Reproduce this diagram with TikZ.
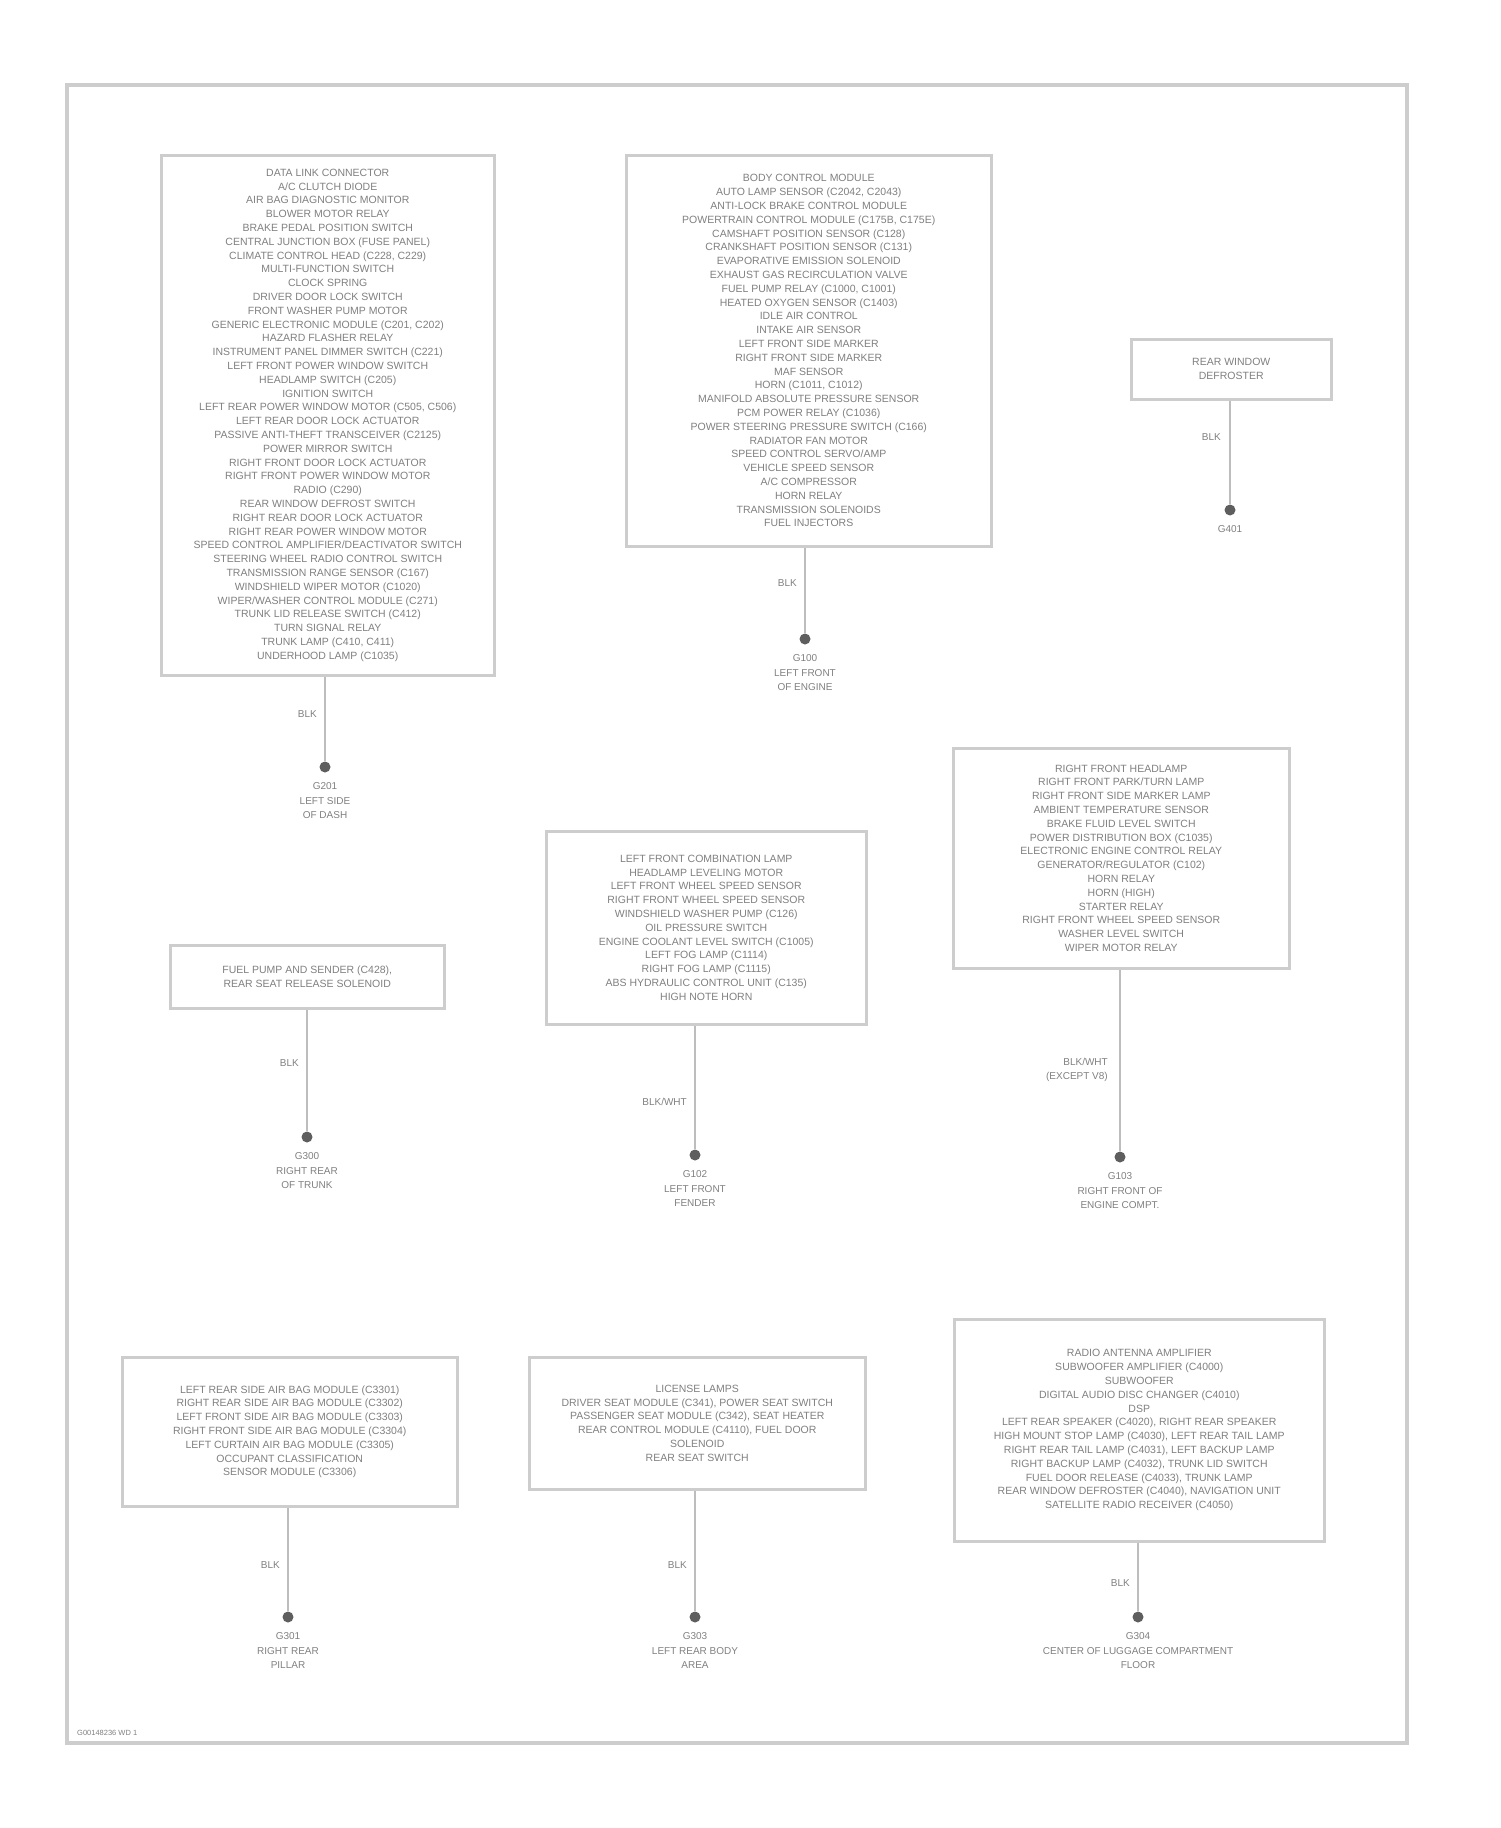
\documentclass[tikz,border=0pt]{standalone}
\usepackage{fontspec}
\setmainfont{Liberation Sans}
\usepackage{tikz}
\usetikzlibrary{positioning}

\definecolor{boxline}{HTML}{CDCDCD}
\definecolor{wireline}{HTML}{BDBDBD}
\definecolor{inktext}{HTML}{808080}
\definecolor{gnddark}{HTML}{5E5E5E}

\tikzset{
  compbox/.style={rectangle, draw=boxline, line width=2.5pt, fill=white, inner sep=0pt, anchor=north west, align=center, text=inktext, font=\fontsize{10.5}{13.8}\selectfont},
  wire/.style={draw=wireline, line width=2.5pt},
  gnddot/.style={circle, fill=gnddark, draw=none, inner sep=0pt, minimum size=11pt},
  gndtext/.style={inner sep=0pt, align=center, text=inktext, font=\fontsize{10}{14.5}\selectfont},
  wirelabel/.style={inner sep=0pt, align=right, anchor=east, text=inktext, font=\fontsize{10}{14.5}\selectfont}
}

\begin{document}
\begin{tikzpicture}[x=1pt,y=-1pt]
\useasboundingbox (0,0) rectangle (1500,1828);

% outer frame
\draw[draw=boxline, line width=4pt] (67,85) rectangle (1407,1743);
\node[inner sep=0pt, anchor=west, text=inktext, font=\fontsize{7.5}{9}\selectfont] (imgid) at (77,1733) {G00148236 WD 1};

% components
\node[compbox, minimum width=333, minimum height=520] (boxA) at (160,154) {DATA LINK CONNECTOR\\A/C CLUTCH DIODE\\AIR BAG DIAGNOSTIC MONITOR\\BLOWER MOTOR RELAY\\BRAKE PEDAL POSITION SWITCH\\CENTRAL JUNCTION BOX (FUSE PANEL)\\CLIMATE CONTROL HEAD (C228, C229)\\MULTI-FUNCTION SWITCH\\CLOCK SPRING\\DRIVER DOOR LOCK SWITCH\\FRONT WASHER PUMP MOTOR\\GENERIC ELECTRONIC MODULE (C201, C202)\\HAZARD FLASHER RELAY\\INSTRUMENT PANEL DIMMER SWITCH (C221)\\LEFT FRONT POWER WINDOW SWITCH\\HEADLAMP SWITCH (C205)\\IGNITION SWITCH\\LEFT REAR POWER WINDOW MOTOR (C505, C506)\\LEFT REAR DOOR LOCK ACTUATOR\\PASSIVE ANTI-THEFT TRANSCEIVER (C2125)\\POWER MIRROR SWITCH\\RIGHT FRONT DOOR LOCK ACTUATOR\\RIGHT FRONT POWER WINDOW MOTOR\\RADIO (C290)\\REAR WINDOW DEFROST SWITCH\\RIGHT REAR DOOR LOCK ACTUATOR\\RIGHT REAR POWER WINDOW MOTOR\\SPEED CONTROL AMPLIFIER/DEACTIVATOR SWITCH\\STEERING WHEEL RADIO CONTROL SWITCH\\TRANSMISSION RANGE SENSOR (C167)\\WINDSHIELD WIPER MOTOR (C1020)\\WIPER/WASHER CONTROL MODULE (C271)\\TRUNK LID RELEASE SWITCH (C412)\\TURN SIGNAL RELAY\\TRUNK LAMP (C410, C411)\\UNDERHOOD LAMP (C1035)};

\node[compbox, minimum width=365, minimum height=391] (boxB) at (625,154) {BODY CONTROL MODULE\\AUTO LAMP SENSOR (C2042, C2043)\\ANTI-LOCK BRAKE CONTROL MODULE\\POWERTRAIN CONTROL MODULE (C175B, C175E)\\CAMSHAFT POSITION SENSOR (C128)\\CRANKSHAFT POSITION SENSOR (C131)\\EVAPORATIVE EMISSION SOLENOID\\EXHAUST GAS RECIRCULATION VALVE\\FUEL PUMP RELAY (C1000, C1001)\\HEATED OXYGEN SENSOR (C1403)\\IDLE AIR CONTROL\\INTAKE AIR SENSOR\\LEFT FRONT SIDE MARKER\\RIGHT FRONT SIDE MARKER\\MAF SENSOR\\HORN (C1011, C1012)\\MANIFOLD ABSOLUTE PRESSURE SENSOR\\PCM POWER RELAY (C1036)\\POWER STEERING PRESSURE SWITCH (C166)\\RADIATOR FAN MOTOR\\SPEED CONTROL SERVO/AMP\\VEHICLE SPEED SENSOR\\A/C COMPRESSOR\\HORN RELAY\\TRANSMISSION SOLENOIDS\\FUEL INJECTORS};

\node[compbox, minimum width=200, minimum height=60] (boxC) at (1130,338) {REAR WINDOW\\DEFROSTER};

\node[compbox, minimum width=274, minimum height=63] (boxD) at (169,944) {FUEL PUMP AND SENDER (C428),\\REAR SEAT RELEASE SOLENOID};

\node[compbox, minimum width=320, minimum height=193] (boxE) at (545,830) {LEFT FRONT COMBINATION LAMP\\HEADLAMP LEVELING MOTOR\\LEFT FRONT WHEEL SPEED SENSOR\\RIGHT FRONT WHEEL SPEED SENSOR\\WINDSHIELD WASHER PUMP (C126)\\OIL PRESSURE SWITCH\\ENGINE COOLANT LEVEL SWITCH (C1005)\\LEFT FOG LAMP (C1114)\\RIGHT FOG LAMP (C1115)\\ABS HYDRAULIC CONTROL UNIT (C135)\\HIGH NOTE HORN};

\node[compbox, minimum width=336, minimum height=220] (boxF) at (952,747) {RIGHT FRONT HEADLAMP\\RIGHT FRONT PARK/TURN LAMP\\RIGHT FRONT SIDE MARKER LAMP\\AMBIENT TEMPERATURE SENSOR\\BRAKE FLUID LEVEL SWITCH\\POWER DISTRIBUTION BOX (C1035)\\ELECTRONIC ENGINE CONTROL RELAY\\GENERATOR/REGULATOR (C102)\\HORN RELAY\\HORN (HIGH)\\STARTER RELAY\\RIGHT FRONT WHEEL SPEED SENSOR\\WASHER LEVEL SWITCH\\WIPER MOTOR RELAY};

\node[compbox, minimum width=335, minimum height=149] (boxG) at (121,1356) {LEFT REAR SIDE AIR BAG MODULE (C3301)\\RIGHT REAR SIDE AIR BAG MODULE (C3302)\\LEFT FRONT SIDE AIR BAG MODULE (C3303)\\RIGHT FRONT SIDE AIR BAG MODULE (C3304)\\LEFT CURTAIN AIR BAG MODULE (C3305)\\OCCUPANT CLASSIFICATION\\SENSOR MODULE (C3306)};

\node[compbox, minimum width=336, minimum height=132] (boxH) at (528,1356) {LICENSE LAMPS\\DRIVER SEAT MODULE (C341), POWER SEAT SWITCH\\PASSENGER SEAT MODULE (C342), SEAT HEATER\\REAR CONTROL MODULE (C4110), FUEL DOOR\\SOLENOID\\REAR SEAT SWITCH};

\node[compbox, minimum width=370, minimum height=222] (boxI) at (953,1318) {RADIO ANTENNA AMPLIFIER\\SUBWOOFER AMPLIFIER (C4000)\\SUBWOOFER\\DIGITAL AUDIO DISC CHANGER (C4010)\\DSP\\LEFT REAR SPEAKER (C4020), RIGHT REAR SPEAKER\\HIGH MOUNT STOP LAMP (C4030), LEFT REAR TAIL LAMP\\RIGHT REAR TAIL LAMP (C4031), LEFT BACKUP LAMP\\RIGHT BACKUP LAMP (C4032), TRUNK LID SWITCH\\FUEL DOOR RELEASE (C4033), TRUNK LAMP\\REAR WINDOW DEFROSTER (C4040), NAVIGATION UNIT\\SATELLITE RADIO RECEIVER (C4050)};

% ground points
\node[gnddot] (gA) at (325,767) {};
\node[gnddot] (gB) at (805,639) {};
\node[gnddot] (gC) at (1230,510) {};
\node[gnddot] (gD) at (307,1137) {};
\node[gnddot] (gE) at (695,1155) {};
\node[gnddot] (gF) at (1120,1157) {};
\node[gnddot] (gG) at (288,1617) {};
\node[gnddot] (gH) at (695,1617) {};
\node[gnddot] (gI) at (1138,1617) {};

% wires
\draw[wire] (boxA.south -| gA) -- (gA);
\draw[wire] (boxB.south -| gB) -- (gB);
\draw[wire] (boxC.south -| gC) -- (gC);
\draw[wire] (boxD.south -| gD) -- (gD);
\draw[wire] (boxE.south -| gE) -- (gE);
\draw[wire] (boxF.south -| gF) -- (gF);
\draw[wire] (boxG.south -| gG) -- (gG);
\draw[wire] (boxH.south -| gH) -- (gH);
\draw[wire] (boxI.south -| gI) -- (gI);

% wire colours
\node[wirelabel] (wA) at (317,714) {BLK};
\node[wirelabel] (wB) at (797,583) {BLK};
\node[wirelabel] (wC) at (1221,437) {BLK};
\node[wirelabel] (wD) at (299,1063) {BLK};
\node[wirelabel] (wE) at (687,1102) {BLK/WHT};
\node[wirelabel] (wF) at (1108,1070) {BLK/WHT\\(EXCEPT V8)};
\node[wirelabel] (wG) at (280,1565) {BLK};
\node[wirelabel] (wH) at (687,1565) {BLK};
\node[wirelabel] (wI) at (1130,1583) {BLK};

% ground locations
\node[gndtext, below=10pt of gA] (locA) {G201\\LEFT SIDE\\OF DASH};
\node[gndtext, below=10pt of gB] (locB) {G100\\LEFT FRONT\\OF ENGINE};
\node[gndtext, below=10pt of gC] (locC) {G401};
\node[gndtext, below=10pt of gD] (locD) {G300\\RIGHT REAR\\OF TRUNK};
\node[gndtext, below=10pt of gE] (locE) {G102\\LEFT FRONT\\FENDER};
\node[gndtext, below=10pt of gF] (locF) {G103\\RIGHT FRONT OF\\ENGINE COMPT.};
\node[gndtext, below=10pt of gG] (locG) {G301\\RIGHT REAR\\PILLAR};
\node[gndtext, below=10pt of gH] (locH) {G303\\LEFT REAR BODY\\AREA};
\node[gndtext, below=10pt of gI] (locI) {G304\\CENTER OF LUGGAGE COMPARTMENT\\FLOOR};

\end{tikzpicture}
\end{document}
